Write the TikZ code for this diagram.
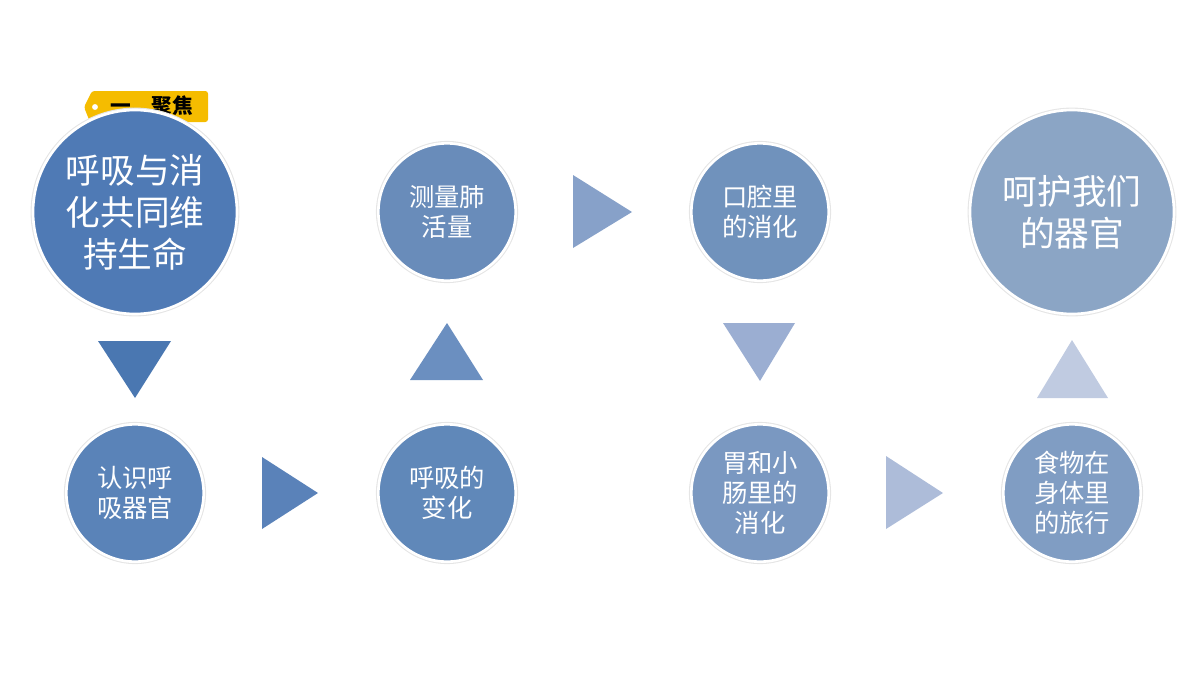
\documentclass[tikz,border=0pt]{standalone}
\usepackage{fontspec}
\setmainfont{Noto Sans CJK SC}
\definecolor{tagyellow}{HTML}{F5BC00}
\definecolor{cA}{HTML}{4F7AB5}
\definecolor{cB}{HTML}{5A83B8}
\definecolor{cC}{HTML}{6088B9}
\definecolor{cD}{HTML}{698CBA}
\definecolor{cE}{HTML}{7092BC}
\definecolor{cF}{HTML}{7A98C1}
\definecolor{cG}{HTML}{809DC3}
\definecolor{cH}{HTML}{8BA5C5}
\definecolor{tA}{HTML}{4A77B1}
\definecolor{tB}{HTML}{5A82B9}
\definecolor{tC}{HTML}{6B8FC0}
\definecolor{tD}{HTML}{87A1C9}
\definecolor{tE}{HTML}{9BAED2}
\definecolor{tF}{HTML}{ADBCD9}
\definecolor{tG}{HTML}{C0CBE1}
\tikzset{
  ball/.style={circle, fill=#1, draw=white, line width=2pt,
    preaction={draw=black!10, line width=3.6pt},
    text=white, align=center, inner sep=0pt, minimum size=103pt,
    font=\fontsize{19}{22.5}\selectfont},
  bigball/.style={ball=#1, minimum size=153pt,
    font=\fontsize{26}{31.5}\selectfont},
}

\begin{document}
\begin{tikzpicture}[x=0.75pt, y=-0.75pt]
\useasboundingbox (0,0) rectangle (1200,675);
% tag behind the first circle
\fill[tagyellow, rounded corners=2pt] (92,91) -- (208,91) -- (208,122) -- (90,122) -- (84,107) -- cycle;
\fill[white] (95,107) circle (2.2pt);
\node[font=\fontsize{15.5}{15.5}\selectfont\bfseries, anchor=west, inner sep=0pt] (tag) at (110,106) {一、聚焦};
% circles
\node[bigball=cA] (life) at (135,212) {呼吸与消\\化共同维\\持生命};
\node[ball=cB] (organ) at (135,493) {认识呼\\吸器官};
\node[ball=cC] (change) at (447,493) {呼吸的\\变化};
\node[ball=cD] (lung) at (447,212) {测量肺\\活量};
\node[ball=cE] (mouth) at (760,212) {口腔里\\的消化};
\node[ball=cF] (gut) at (760,493) {胃和小\\肠里的\\消化};
\node[ball=cG] (trip) at (1072,493) {食物在\\身体里\\的旅行};
\node[bigball=cH] (care) at (1072,212) {呵护我们\\的器官};
% triangles
\fill[tA] (98,341) -- (171,341) -- (135,398) -- cycle;
\fill[tB] (262,457) -- (318,493) -- (262,529) -- cycle;
\fill[tC] (410,380) -- (483,380) -- (447,323) -- cycle;
\fill[tD] (573,175) -- (632,212) -- (573,248) -- cycle;
\fill[tE] (723,323) -- (795,323) -- (760,381) -- cycle;
\fill[tF] (886,456) -- (943,493) -- (886,529) -- cycle;
\fill[tG] (1037,398) -- (1108,398) -- (1072,340) -- cycle;
\end{tikzpicture}
\end{document}
